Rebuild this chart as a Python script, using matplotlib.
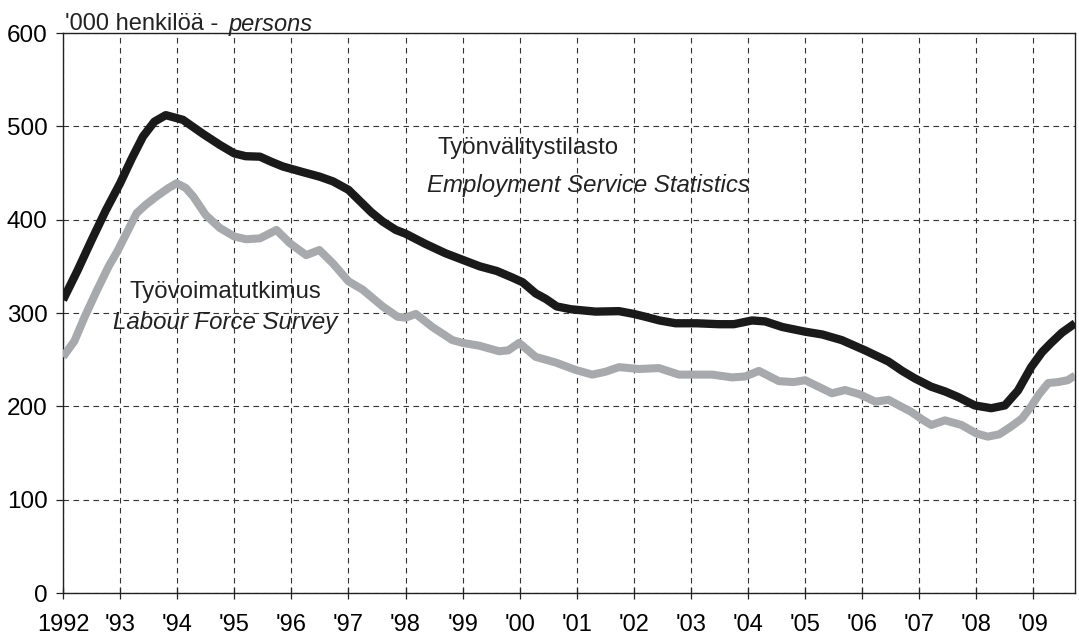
import numpy as np
import matplotlib.pyplot as plt

plt.rcParams['font.family'] = ['Liberation Sans', 'DejaVu Sans']

# Employment Service Statistics (black), '000 persons
ess_year = [1992.0, 1992.25, 1992.5, 1992.75, 1993.0, 1993.2, 1993.4, 1993.6, 1993.8,
            1994.1, 1994.45, 1994.75, 1995.0, 1995.2, 1995.45, 1995.65, 1995.85,
            1996.2, 1996.5, 1996.73, 1997.0, 1997.2, 1997.4, 1997.6, 1997.83,
            1998.0, 1998.35, 1998.7, 1999.0, 1999.3, 1999.6, 1999.87, 2000.05,
            2000.28, 2000.46, 2000.65, 2000.9, 2001.33, 2001.74, 2002.0, 2002.2,
            2002.45, 2002.73, 2003.1, 2003.49, 2003.75, 2004.07, 2004.3, 2004.6,
            2005.0, 2005.3, 2005.64, 2006.05, 2006.46, 2006.7, 2006.92, 2007.21,
            2007.45, 2007.68, 2007.97, 2008.26, 2008.5, 2008.73, 2008.96, 2009.15,
            2009.31, 2009.5, 2009.73]
ess_val = [314, 345, 378, 410, 439, 465, 489, 505, 512,
           507, 492, 480, 471, 468, 467.5, 462, 457,
           451, 446, 441, 432, 420, 408, 398, 389,
           385, 374, 364, 357, 350, 345, 338, 333,
           321, 315, 307, 304, 301.5, 302, 299, 296,
           292, 289, 289, 288, 288, 292, 291, 285,
           280, 277, 271, 260, 248, 238, 230, 221,
           216, 210, 201, 198, 201, 217, 242, 258,
           268, 279, 289]

# Labour Force Survey (grey)
lfs_year = [1992.0, 1992.2, 1992.38, 1992.6, 1992.8, 1992.96, 1993.15, 1993.29, 1993.45,
            1993.64, 1993.85, 1993.99, 1994.15, 1994.28, 1994.5, 1994.75, 1995.0,
            1995.21, 1995.45, 1995.74, 1995.97, 1996.26, 1996.49, 1996.73, 1997.0,
            1997.25, 1997.6, 1997.86, 1998.0, 1998.18, 1998.47, 1998.82, 1999.0,
            1999.29, 1999.64, 1999.8, 1999.99, 2000.28, 2000.63, 2000.98, 2001.27,
            2001.5, 2001.74, 2002.09, 2002.44, 2002.79, 2003.37, 2003.72, 2003.95,
            2004.19, 2004.54, 2004.8, 2005.0, 2005.47, 2005.7, 2005.95, 2006.23,
            2006.46, 2006.86, 2007.05, 2007.21, 2007.45, 2007.74, 2008.0, 2008.2,
            2008.4, 2008.6, 2008.8, 2008.96, 2009.1, 2009.26, 2009.43, 2009.6, 2009.73]
lfs_val = [253, 270, 296, 325, 350, 367, 390, 407, 416,
           425, 434, 439, 434, 425, 405, 391, 382,
           379, 380, 389, 375, 362, 367.5, 353, 334,
           325, 307, 296, 295, 299, 285, 271, 268,
           265, 259, 260, 268, 253, 247, 239, 234,
           237, 242, 240, 241, 234, 234, 231, 232,
           238, 227, 226, 228, 214, 217.5, 213, 205,
           207, 194, 186, 180, 185, 180, 171, 167.5,
           170, 178, 187, 200, 213, 225, 226, 228, 233]

years = list(range(1992, 2010))
year_labels = ['1992'] + ["'%02d" % (y % 100) for y in years[1:]]

fig = plt.figure(figsize=(10.79, 6.36), dpi=100)
ax = fig.add_axes([0.0584, 0.0676, 0.938, 0.8805])

ax.plot(lfs_year, lfs_val, color='#a7a9ac', lw=5.8, solid_joinstyle='round',
        solid_capstyle='butt', zorder=3)
ax.plot(ess_year, ess_val, color='#1a1a1a', lw=6.0, solid_joinstyle='round',
        solid_capstyle='butt', zorder=4)

ax.set_xlim(1992, 2009.73)
ax.set_ylim(0, 600)
ax.set_xticks(years)
ax.set_xticklabels(year_labels)
ax.set_yticks(range(0, 601, 100))

ax.grid(True, color='#333333', linestyle=(0, (5, 4)), linewidth=0.8)
ax.set_axisbelow(True)
ax.tick_params(axis='y', labelsize=17.5, length=5, width=0.9, color='#222222', pad=6)
ax.tick_params(axis='x', labelsize=17, direction='inout', length=8, width=0.9,
               color='#222222', pad=11)
for s in ax.spines.values():
    s.set_linewidth(1.0)
    s.set_color('#222222')

txt = dict(fontsize=17.3, color='#222222', va='center', zorder=5)
ax.text(1998.56, 476.8, 'Työnvälitystilasto', ha='left', **txt)
ax.text(1998.38, 437, 'Employment Service Statistics', ha='left', style='italic', **txt)
ax.text(1993.17, 323, 'Työvoimatutkimus', ha='left', **txt)
ax.text(1992.87, 289.6, 'Labour Force Survey', ha='left', style='italic', **txt)

# unit label: upright Finnish part, italic English part
t1 = fig.text(0.060, 0.962, "'000 henkilöä - ", fontsize=17, color='#222222',
              ha='left', va='center')
fig.canvas.draw()
bb = t1.get_window_extent()
x_end = bb.x1 / fig.bbox.width
fig.text(x_end + 0.004, 0.962, 'persons', fontsize=17, style='italic',
         color='#222222', ha='left', va='center')

fig.savefig('out.png', dpi=100)
